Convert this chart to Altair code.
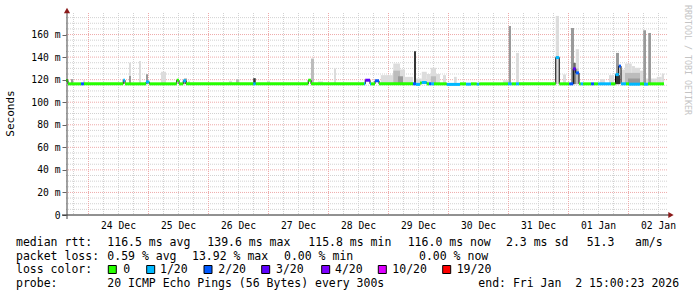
import altair as alt
import pandas as pd

# ---------------- data (hours since graph start, Tue 23 Dec 15:00) ----------------
day_labels = ['24 Dec', '25 Dec', '26 Dec', '27 Dec', '28 Dec', '29 Dec',
              '30 Dec', '31 Dec', '01 Jan', '02 Jan']
day_label_hours = [21, 45, 69, 93, 117, 141, 165, 189, 213, 237]

y_tick_values = [0, 20, 40, 60, 80, 100, 120, 140, 160]

# smoke (ping distribution) bars
smoke_start = [2.0, 6.9, 25.2, 25.2, 29.2, 32.0, 38.0, 47.2, 48.8, 65.2, 68.0, 74.9, 80.4, 98.0, 100.8,
               107.2, 125.9, 130.9, 130.9, 133.6, 132.8, 135.6, 139.2, 140.0, 142.3, 144.3, 145.9, 145.9,
               148.0, 150.8, 155.2, 174.8, 177.1, 180.0, 195.9, 198.8, 202.0, 202.9, 203.9, 203.9, 213.6,
               217.2, 219.6, 220.0, 222.0, 223.6, 223.6, 224.8, 226.3, 227.6, 229.6, 230.9, 232.0, 232.9,
               234.0, 236.3, 238.3]
smoke_end = [2.9, 7.6, 26.0, 26.0, 30.0, 32.8, 40.0, 48.4, 49.6, 66.4, 69.3, 75.9, 81.6, 99.2, 102.8,
             108.0, 130.9, 133.6, 133.6, 135.6, 134.8, 138.8, 140.0, 142.3, 144.3, 145.9, 148.0, 148.0,
             149.6, 152.0, 156.3, 177.1, 178.0, 181.2, 197.2, 200.0, 203.2, 203.9, 205.2, 205.0, 215.6,
             219.2, 221.6, 221.2, 223.6, 226.3, 229.6, 229.6, 227.6, 229.6, 230.9, 232.0, 232.9, 234.0,
             236.3, 238.3, 239.2]
smoke_top = [120.4, 119.5, 134.9, 123.3, 136.6, 124.8, 127.0, 121.0, 119.0, 119.0, 120.4, 121.3, 119.0,
             138.7, 118.5, 130.0, 124.0, 134.3, 128.0, 129.0, 123.0, 122.5, 145.2, 121.0, 127.0, 125.0,
             130.5, 123.0, 125.0, 124.0, 122.5, 119.5, 167.6, 143.7, 176.5, 124.6, 165.8, 134.9, 147.0,
             130.0, 120.4, 124.0, 124.0, 143.7, 129.0, 134.3, 126.0, 121.0, 132.0, 130.5, 128.0, 163.8,
             121.0, 161.4, 121.0, 122.5, 125.4]
smoke_level = [3, 1, 1, 3, 1, 3, 1, 3, 1, 1, 2, 5, 1, 2, 1, 1, 1, 1, 2, 1, 3, 1, 5, 1, 1, 1, 1, 2, 1, 1,
               1, 1, 3, 1, 1, 1, 3, 4, 1, 2, 1, 1, 5, 3, 1, 1, 2, 3, 1, 1, 1, 3, 1, 3, 1, 1, 1]
smoke_floor = 116.0

# median rtt, piecewise with loss colour
med_start = [0.0, 0.8, 6.0, 7.2, 22.9, 23.6, 32.0, 33.3, 44.3, 45.2, 46.9, 48.0, 74.9, 75.9, 96.9, 98.0,
             119.2, 119.7, 121.6, 122.0, 123.6, 125.2, 138.8, 140.0, 141.6, 142.3, 144.3, 145.2, 146.0,
             147.2, 152.3, 157.6, 160.0, 162.0, 164.3, 165.3, 176.8, 178.3, 180.0, 181.2, 195.9, 197.3,
             201.3, 202.9, 203.9, 205.2, 205.9, 206.9, 210.0, 211.2, 212.9, 218.0, 219.8, 221.1, 222.0,
             224.0, 225.2, 229.6, 231.2, 232.8]
med_ms = [119.3, 116.3, 116.3, 116.3, 119.5, 116.3, 118.0, 116.3, 119.5, 116.3, 119.0, 116.3, 116.3, 116.3,
          119.5, 116.3, 116.3, 119.5, 116.3, 116.3, 119.0, 116.3, 116.3, 115.8, 117.0, 117.5, 116.3, 116.3,
          116.3, 116.3, 115.8, 116.3, 116.0, 116.3, 116.0, 116.3, 116.3, 116.3, 116.3, 116.3, 139.6, 116.3,
          116.3, 129.6, 126.0, 116.3, 116.3, 116.3, 116.3, 116.3, 116.3, 116.3, 124.5, 132.0, 116.3, 116.3,
          116.0, 116.3, 116.0, 116.3]
med_loss = ['0', '0', '2/20', '0', '1/20', '0', '1/20', '0', '0', '0', '1/20', '0', '1/20', '0', '0', '0',
            '1/20', '3/20', '1/20', '0', '2/20', '0', '2/20', '1/20', '0', '1/20', '0', '2/20', '1/20', '0',
            '1/20', '0', '1/20', '0', '1/20', '0', '1/20', '0', '1/20', '0', '1/20', '0', '2/20', '3/20',
            '2/20', '0', '1/20', '0', '2/20', '0', '1/20', '0', '1/20', '2/20', '1/20', '0', '1/20', '0',
            '1/20', '0']
med_last_end = 239.2

loss_labels = ['0', '1/20', '2/20', '3/20', '4/20', '10/20', '19/20']
loss_colors = ['#26ff00', '#00b8ff', '#0059ff', '#5e00ff', '#7e00ff', '#dd00ff', '#ff0000']
smoke_greys = ['#dcdcdc', '#bcbcbc', '#9a9a9a', '#6a6a6a', '#353535']

stats_line1 = ['median rtt:', '116.5 ms avg', '139.6 ms max', '115.8 ms min', '116.0 ms now',
               '2.3 ms sd', '51.3', 'am/s']
stats_line2 = ['packet loss:', '0.59 % avg', '13.92 % max', '0.00 % min', '0.00 % now']
stats_line4 = ['probe:', '20 ICMP Echo Pings (56 Bytes) every 300s', 'end: Fri Jan  2 15:00:23 2026']

# ---------------- layout ----------------
FONT = "DejaVu Sans Mono"
LEFT, TOP, W, H = 66, 13, 600, 202
X_DOMAIN = [0, 240]
Y_DOMAIN = [0, 179.1]

line1_x = [16, 107.3, 207.3, 308.3, 407.7, 506, 586.7, 635]
line2_x = [16, 107.3, 192, 284, 419]
line4_x = [16, 107.3, 478.3]
sq_x = [108.3, 146.7, 204, 261.7, 321.7, 378.3, 442.7]
lab_x = [123.3, 160, 218.3, 276, 335, 392.3, 456.7]
base_y = [246, 259.6, 273.2, 286.8]

NB = '\u00a0'


def nb(s):
    return s.replace(' ', NB)


xs = alt.Scale(domain=X_DOMAIN, nice=False, zero=False)
ys = alt.Scale(domain=Y_DOMAIN, nice=False, zero=False)

y_axis = alt.Axis(values=y_tick_values,
                  labelExpr="datum.value == 0 ? '0" + NB + NB + "' : datum.value + '" + NB + "m'",
                  title=None, grid=False, domain=False, ticks=True, tickSize=4,
                  tickColor='#666666', labelFont=FONT, labelFontSize=9.7, labelColor='#000000',
                  labelPadding=2, labelBaseline='middle')

minor_h = [v for v in range(5, 180, 5) if v % 20]
major_h = list(range(20, 161, 20))
minor_v = [h for h in range(3, 240, 6) if (h - 9) % 24]
major_v = list(range(9, 240, 24))

GRID_MINOR = '#d2d2d2'
GRID_MAJOR = '#eeaaaa'

g_minor_h = alt.Chart(pd.DataFrame({'ms': minor_h})).mark_rule(
    color=GRID_MINOR, strokeDash=[1, 1], strokeWidth=1).encode(
    y=alt.Y('ms:Q', scale=ys, axis=y_axis), x=alt.value(0), x2=alt.value(W + 1))
g_minor_v = alt.Chart(pd.DataFrame({'h': minor_v})).mark_rule(
    color=GRID_MINOR, strokeDash=[1, 1], strokeWidth=1).encode(
    x=alt.X('h:Q', scale=xs, axis=None), y=alt.value(0), y2=alt.value(H))
g_major_h = alt.Chart(pd.DataFrame({'ms': major_h})).mark_rule(
    color=GRID_MAJOR, strokeDash=[1, 1], strokeWidth=1).encode(
    y=alt.Y('ms:Q', scale=ys, axis=None), x=alt.value(0), x2=alt.value(W + 1))
g_major_v = alt.Chart(pd.DataFrame({'h': major_v})).mark_rule(
    color=GRID_MAJOR, strokeDash=[1, 1], strokeWidth=1).encode(
    x=alt.X('h:Q', scale=xs, axis=None), y=alt.value(0), y2=alt.value(H))

smoke_df = pd.DataFrame({'h0': smoke_start, 'h1': smoke_end, 'top': smoke_top,
                         'level': smoke_level})
smoke_df['bottom'] = smoke_floor
smoke_df = smoke_df.sort_values('level', kind='stable').reset_index(drop=True)
smoke = alt.Chart(smoke_df).mark_rect(strokeWidth=0).encode(
    x=alt.X('h0:Q', scale=xs, axis=None), x2='h1:Q',
    y=alt.Y('top:Q', scale=ys, axis=None), y2='bottom:Q',
    color=alt.Color('level:O', scale=alt.Scale(domain=[1, 2, 3, 4, 5], range=smoke_greys),
                    legend=None))

med_end = med_start[1:] + [med_last_end]
med_df = pd.DataFrame({'h0': med_start, 'h1': med_end, 'ms': med_ms, 'loss': med_loss})
step_df = pd.DataFrame({'h': med_start + [med_last_end], 'ms': med_ms + [med_ms[-1]]})
med_step = alt.Chart(step_df).mark_line(interpolate='step-after', color='#000000',
                                        strokeWidth=1).encode(
    x=alt.X('h:Q', scale=xs, axis=None), y=alt.Y('ms:Q', scale=ys, axis=None))
med_seg = alt.Chart(med_df).mark_rule(strokeWidth=3).encode(
    x=alt.X('h0:Q', scale=xs, axis=None), x2='h1:Q',
    y=alt.Y('ms:Q', scale=ys, axis=None),
    color=alt.Color('loss:N', scale=alt.Scale(domain=loss_labels, range=loss_colors), legend=None))

x_labels = alt.Chart(pd.DataFrame({'h': day_label_hours, 't': day_labels})).mark_text(
    font=FONT, fontSize=9.7, baseline='alphabetic', align='center', color='#000000').encode(
    x=alt.X('h:Q', scale=xs, axis=None), y=alt.value(228.5 - TOP), text='t:N')

one = pd.DataFrame({'a': [0]})
x_axis_line = alt.Chart(one).mark_rule(color='#222222', strokeWidth=1).encode(
    x=alt.value(62 - LEFT), x2=alt.value(669 - LEFT), y=alt.value(215 - TOP))
y_axis_line = alt.Chart(one).mark_rule(color='#444444', strokeWidth=1).encode(
    x=alt.value(67 - LEFT), y=alt.value(219 - TOP), y2=alt.value(12 - TOP))
arrow_up = alt.Chart(one).mark_point(shape='triangle-up', filled=True, size=38, opacity=1,
                                     color='#8b1a1a').encode(
    x=alt.value(67 - LEFT), y=alt.value(10.5 - TOP))
arrow_right = alt.Chart(one).mark_point(shape='triangle-right', filled=True, size=38, opacity=1,
                                        color='#8b1a1a').encode(
    x=alt.value(671 - LEFT), y=alt.value(215 - TOP))

y_title = alt.Chart(one).mark_text(text='Seconds', font=FONT, fontSize=11, angle=270,
                                   align='center', baseline='middle', color='#000000').encode(
    x=alt.value(11 - LEFT), y=alt.value(113.5 - TOP))
watermark = alt.Chart(one).mark_text(text='RRDTOOL / TOBI OETIKER', font=FONT, fontSize=8.3,
                                     angle=90, align='center', baseline='middle',
                                     color='#c4c4c4').encode(
    x=alt.value(687 - LEFT), y=alt.value(60 - TOP))

rows = []
for xx, t in zip(line1_x, stats_line1):
    rows.append({'px': xx - LEFT, 'py': base_y[0] - TOP, 't': nb(t)})
for xx, t in zip(line2_x, stats_line2):
    rows.append({'px': xx - LEFT, 'py': base_y[1] - TOP, 't': nb(t)})
rows.append({'px': 16 - LEFT, 'py': base_y[2] - TOP, 't': nb('loss color:')})
for xx, t in zip(lab_x, loss_labels):
    rows.append({'px': xx - LEFT, 'py': base_y[2] - TOP, 't': nb(t)})
for xx, t in zip(line4_x, stats_line4):
    rows.append({'px': xx - LEFT, 'py': base_y[3] - TOP, 't': nb(t)})
legend_text = alt.Chart(pd.DataFrame(rows)).mark_text(
    font=FONT, fontSize=11.5, align='left', baseline='alphabetic', color='#000000').encode(
    x=alt.X('px:Q', scale=None, axis=None), y=alt.Y('py:Q', scale=None, axis=None), text='t:N')

sq_df = pd.DataFrame({'x1': [v - LEFT for v in sq_x], 'x2': [v + 8 - LEFT for v in sq_x],
                      'y1': [265.5 - TOP] * len(sq_x), 'y2': [273.5 - TOP] * len(sq_x),
                      'loss': loss_labels})
legend_sq = alt.Chart(sq_df).mark_rect(stroke='#000000', strokeWidth=1).encode(
    x=alt.X('x1:Q', scale=None, axis=None), x2='x2:Q',
    y=alt.Y('y1:Q', scale=None, axis=None), y2='y2:Q',
    color=alt.Color('loss:N', scale=alt.Scale(domain=loss_labels, range=loss_colors), legend=None))

chart = alt.layer(
    g_minor_h, g_minor_v, g_major_h, g_major_v,
    smoke, med_step, med_seg,
    x_axis_line, y_axis_line, arrow_up, arrow_right,
    x_labels, y_title, watermark, legend_text, legend_sq
).resolve_scale(
    x='independent', y='independent', color='independent'
).properties(
    width=W, height=H,
    padding={'left': LEFT, 'top': TOP, 'right': 697 - LEFT - W, 'bottom': 297 - TOP - H},
    autosize=alt.AutoSizeParams(type='none'),
    background='#ffffff'
).configure_view(stroke=None)

chart.save("out.html", embed_options={"renderer": "svg", "actions": False})
